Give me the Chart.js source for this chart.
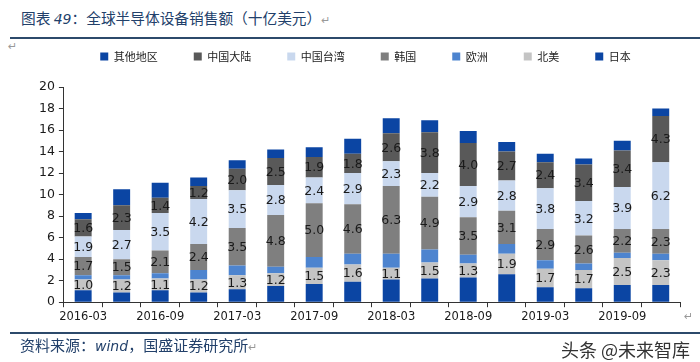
<!DOCTYPE html>
<html>
<head>
<meta charset="utf-8">
<script src="https://cdn.jsdelivr.net/npm/chart.js@4.4.1/dist/chart.umd.min.js"></script>
<style>
    body { margin: 0; background: #fff; width: 700px; height: 362px; overflow: hidden; position: relative; font-family: "Noto Sans CJK SC", sans-serif; }
    #title { position: absolute; left: 21px; top: 7px; font-size: 14.7px; color: #22406a; white-space: nowrap; }
    #title i { font-family: "DejaVu Sans", sans-serif; font-size: 14px; }
    .mark { color: #999; font-size: 11px; font-family: "DejaVu Sans", sans-serif; }
    #topLine { position: absolute; left: 10px; top: 37px; width: 690px; height: 2px; background: #2c4a6b; }
    #enter1 { position: absolute; left: 8px; top: 40px; }
    #bottomLine { position: absolute; left: 10px; top: 332px; width: 690px; height: 2px; background: #2c4a6b; }
    #source { position: absolute; left: 20px; top: 334px; font-size: 15px; color: #22406a; white-space: nowrap; }
    #source i { font-family: "DejaVu Sans", sans-serif; font-size: 14px; }
    #water { position: absolute; left: 561px; top: 336px; font-size: 18px; color: #333; white-space: nowrap; }
    #enter2 { position: absolute; left: 684px; top: 310px; }
    #chartBox { position: absolute; left: 0; top: 15px; width: 700px; height: 319px; }
</style>
</head>
<body>
<div id="title">图表 <i>49</i>：全球半导体设备销售额（十亿美元）<span class="mark">↵</span></div>
<div id="topLine"></div>
<div id="enter1" class="mark">↵</div>
<div id="chartBox"><canvas id="semiChart"></canvas></div>
<div id="enter2" class="mark">↵</div>
<div id="bottomLine"></div>
<div id="source">资料来源：<i>wind</i>，国盛证券研究所<span class="mark">↵</span></div>
<div id="water">头条 @未来智库</div>

<script>
// quarters
const quarters = ['2016-03', '2016-06', '2016-09', '2016-12', '2017-03', '2017-06', '2017-09', '2017-12',
    '2018-03', '2018-06', '2018-09', '2018-12', '2019-03', '2019-06', '2019-09', '2019-12'];

// sales by region, billion USD (bottom of the stack first)
const japan = [1.1, 0.9, 1.1, 0.9, 1.2, 1.5, 1.7, 1.9, 2.1, 2.2, 2.3, 2.6, 1.4, 1.3, 1.6, 1.6];
const northAmerica = [1.0, 1.2, 1.1, 1.2, 1.3, 1.2, 1.5, 1.6, 1.1, 1.5, 1.3, 1.9, 1.7, 1.7, 2.5, 2.3];
const europe = [0.4, 0.4, 0.5, 0.9, 0.9, 0.6, 1.0, 1.0, 1.3, 1.2, 0.8, 0.9, 0.8, 0.6, 0.5, 0.6];
const korea = [1.7, 1.5, 2.1, 2.4, 3.5, 4.8, 5.0, 4.6, 6.3, 4.9, 3.5, 3.1, 2.9, 2.6, 2.2, 2.3];
const taiwan = [1.9, 2.7, 3.5, 4.2, 3.5, 2.8, 2.4, 2.9, 2.3, 2.2, 2.9, 2.8, 3.8, 3.2, 3.9, 6.2];
const mainland = [1.6, 2.3, 1.4, 1.2, 2.0, 2.5, 1.9, 1.8, 2.6, 3.8, 4.0, 2.7, 2.4, 3.4, 3.4, 4.3];
const otherRegions = [0.6, 1.5, 1.4, 0.8, 0.8, 0.8, 0.9, 1.4, 1.4, 1.1, 1.1, 0.9, 0.8, 0.55, 0.9, 0.7];

const yTicks = [0, 2, 4, 6, 8, 10, 12, 14, 16, 18, 20];

// draws the value inside the segments that carry a label in the original
const segmentLabels = {
    id: 'segmentLabels',
    afterDatasetsDraw(chart) {
        const ctx = chart.ctx;
        ctx.save();
        ctx.font = '12.5px "DejaVu Sans", sans-serif';
        ctx.fillStyle = '#1a1a1a';
        ctx.textAlign = 'center';
        ctx.textBaseline = 'middle';
        chart.data.datasets.forEach((ds, i) => {
            if (!ds.showValue) return;
            chart.getDatasetMeta(i).data.forEach((bar, j) => {
                const mid = (bar.y + bar.base) / 2;
                ctx.fillText(ds.data[j].toFixed(1), bar.x, mid + 1);
            });
        });
        ctx.restore();
    }
};

// a bit more room under the legend, and nudge it right to sit where the original one does
const legendTweak = {
    id: 'legendTweak',
    beforeInit(chart) {
        const origFit = chart.legend.fit;
        chart.legend.fit = function() {
            origFit.bind(chart.legend)();
            this.height += 15;
        };
    },
    afterLayout(chart) {
        chart.legend.left += 8;
        chart.legend.right += 8;
    }
};

const ctx = document.getElementById('semiChart');
new Chart(ctx, {
    type: 'bar',
    data: {
        labels: quarters,
        datasets: [
            { label: '日本', data: japan, backgroundColor: '#0b45a3' },
            { label: '北美', data: northAmerica, backgroundColor: '#c4c4c4', showValue: true },
            { label: '欧洲', data: europe, backgroundColor: '#4d84cf' },
            { label: '韩国', data: korea, backgroundColor: '#7f7f7f', showValue: true },
            { label: '中国台湾', data: taiwan, backgroundColor: '#c9d8ee', showValue: true },
            { label: '中国大陆', data: mainland, backgroundColor: '#595959', showValue: true },
            { label: '其他地区', data: otherRegions, backgroundColor: '#0b45a3' }
        ]
    },
    options: {
        responsive: true,
        maintainAspectRatio: false,
        animation: false,
        datasets: {
            bar: { barPercentage: 0.88, categoryPercentage: 0.5 }
        },
        layout: { padding: { left: 35, right: 20, top: 0, bottom: 7 } },
        scales: {
            x: {
                stacked: true,
                grid: { drawOnChartArea: false, tickLength: 5, color: '#333' },
                border: { color: '#333' },
                ticks: {
                    autoSkip: false,
                    maxRotation: 0,
                    color: '#1a1a1a',
                    font: { family: '"DejaVu Sans", sans-serif', size: 11.5 },
                    callback: function(value, index) {
                        return index % 2 === 0 ? quarters[index] : '';
                    }
                }
            },
            y: {
                stacked: true,
                min: 0,
                max: 20,
                afterBuildTicks: function(axis) {
                    axis.ticks = yTicks.map(v => ({ value: v }));
                },
                grid: { drawOnChartArea: false, tickLength: 5, color: '#333' },
                border: { color: '#333' },
                ticks: {
                    color: '#1a1a1a',
                    padding: 4,
                    font: { family: '"DejaVu Sans", sans-serif', size: 12.5 }
                }
            }
        },
        plugins: {
            legend: {
                reverse: true,
                labels: {
                    boxWidth: 8,
                    boxHeight: 8,
                    padding: 36,
                    color: '#222',
                    font: { family: '"Noto Sans CJK SC", sans-serif', size: 11 }
                }
            },
            tooltip: { enabled: false }
        }
    },
    plugins: [segmentLabels, legendTweak]
});
</script>
</body>
</html>
